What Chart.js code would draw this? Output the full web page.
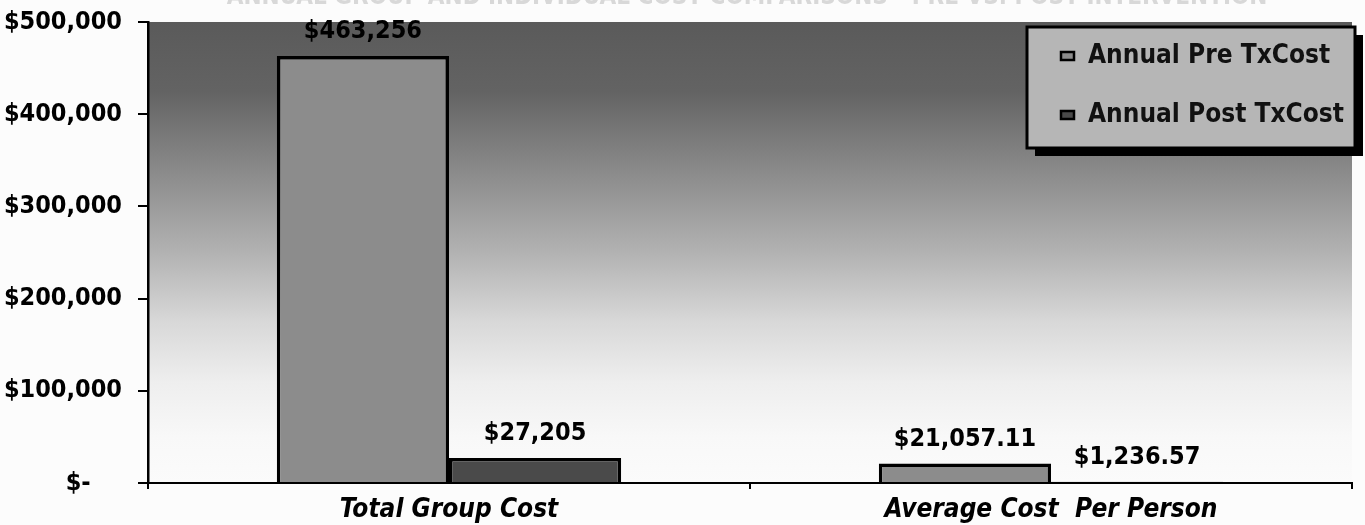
<!DOCTYPE html>
<html>
<head>
<meta charset="utf-8">
<script src="https://cdn.jsdelivr.net/npm/chart.js@4.4.1/dist/chart.umd.min.js"></script>
<style>
  html, body { margin: 0; padding: 0; background: #fcfcfc; }
  #wrap { width: 1365px; height: 525px; position: relative; }
</style>
</head>
<body>
<div id="wrap"><canvas id="c" width="1365" height="525"></canvas></div>
<script>
const titleText = "ANNUAL GROUP AND INDIVIDUAL COST COMPARISONS - PRE VS. POST INTERVENTION";
const categories = ["Total Group Cost", "Average Cost  Per Person"];
const seriesNames = ["Annual Pre TxCost", "Annual Post TxCost"];
const preValues = [463256, 21057.11];
const postValues = [27205, 1236.57];
const labelDecimals = [0, 2];
const yTicks = [0, 100000, 200000, 300000, 400000, 500000];
const seriesColors = ["#8c8c8c", "#4a4a4a"];

const FONT = "'DejaVu Sans Condensed', 'DejaVu Sans', sans-serif";

function money(v, d) {
  if (v === 0) return "$-";
  return "$" + v.toLocaleString("en-US", { minimumFractionDigits: d, maximumFractionDigits: d });
}

const bgPlugin = {
  id: "bg",
  beforeDraw(chart) {
    const { ctx, chartArea: a } = chart;
    const g = ctx.createLinearGradient(0, a.top, 0, a.bottom);
    g.addColorStop(0, "#5a5a5a");
    g.addColorStop(0.15, "#636363");
    g.addColorStop(0.34, "#8e8e8e");
    g.addColorStop(0.5, "#b2b2b2");
    g.addColorStop(0.65, "#d8d8d8");
    g.addColorStop(0.78, "#eeeeee");
    g.addColorStop(0.9, "#f8f8f8");
    g.addColorStop(1, "#fbfbfb");
    ctx.save();
    ctx.fillStyle = g;
    ctx.fillRect(a.left, a.top, a.right - a.left, a.bottom - a.top);
    // clipped title at very top
    ctx.fillStyle = "#d8d8d8";
    ctx.font = "bold 24px " + FONT;
    ctx.textAlign = "center";
    ctx.textBaseline = "alphabetic";
    ctx.fillText(titleText, 747, 4);
    ctx.restore();
  }
};

const labelPlugin = {
  id: "vlabels",
  afterDatasetsDraw(chart) {
    const { ctx } = chart;
    ctx.save();
    ctx.fillStyle = "#000";
    ctx.font = "bold 25px " + FONT;
    ctx.textAlign = "center";
    ctx.textBaseline = "bottom";
    chart.data.datasets.forEach((ds, di) => {
      const meta = chart.getDatasetMeta(di);
      meta.data.forEach((bar, i) => {
        ctx.fillText(money(ds.data[i], labelDecimals[i]), bar.x, bar.y - 12);
      });
    });
    ctx.restore();
  }
};

const legendPlugin = {
  id: "boxlegend",
  afterDraw(chart) {
    const { ctx } = chart;
    const x = 1027, y = 27, w = 328, h = 121;
    ctx.save();
    ctx.fillStyle = "#000";
    ctx.fillRect(x + 8, y + 8, w, h);
    ctx.fillStyle = "#b6b6b6";
    ctx.fillRect(x, y, w, h);
    ctx.lineWidth = 3;
    ctx.strokeStyle = "#000";
    ctx.strokeRect(x, y, w, h);
    ctx.font = "bold 26px " + FONT;
    ctx.textBaseline = "middle";
    ctx.textAlign = "left";
    const rows = [56, 115];
    chart.data.datasets.forEach((ds, i) => {
      const cy = rows[i];
      ctx.fillStyle = ds.backgroundColor;
      ctx.fillRect(1061, cy - 4, 13, 8);
      ctx.lineWidth = 2.5;
      ctx.strokeStyle = "#000";
      ctx.strokeRect(1061, cy - 4, 13, 8);
      ctx.fillStyle = "#111";
      ctx.fillText(ds.label, 1088, cy);
    });
    ctx.restore();
  }
};

new Chart(document.getElementById("c"), {
  type: "bar",
  data: {
    labels: categories,
    datasets: [
      { label: seriesNames[0], data: preValues, backgroundColor: seriesColors[0], borderColor: "#000", borderWidth: 3.5, borderSkipped: "bottom" },
      { label: seriesNames[1], data: postValues, backgroundColor: seriesColors[1], borderColor: "#000", borderWidth: 3.5, borderSkipped: "bottom" }
    ]
  },
  options: {
    responsive: false,
    animation: false,
    devicePixelRatio: 1,
    layout: { padding: { top: 22, right: 13, left: 0, bottom: 0 } },
    plugins: { legend: { display: false }, tooltip: { enabled: false }, title: { display: false } },
    datasets: { bar: { barPercentage: 1.0, categoryPercentage: 0.572 } },
    scales: {
      x: {
        offset: true,
        grid: { display: true, drawOnChartArea: false, offset: true, color: "#000", lineWidth: 2, tickLength: 6, tickWidth: 2 },
        border: { display: true, color: "#000", width: 2 },
        ticks: { color: "#000", font: { family: FONT, size: 26, weight: "bold", style: "italic" }, padding: 6, maxRotation: 0 },
        afterFit(s) { s.height = 42; s.paddingLeft = 0; s.paddingRight = 0; }
      },
      y: {
        min: 0, max: 500000,
        afterBuildTicks(s) { s.ticks = yTicks.map(v => ({ value: v })); },
        grid: { display: true, drawOnChartArea: false, color: "#000", lineWidth: 2, tickLength: 10, tickWidth: 2 },
        border: { display: true, color: "#000", width: 2.5 },
        ticks: {
          color: "#000",
          font: { family: FONT, size: 25, weight: "bold" },
          padding: 16,
          callback: (v) => v === 0 ? "$-    " : money(v, 0)
        },
        afterFit(s) { s.width = 148; s.paddingTop = 0; s.paddingBottom = 0; }
      }
    }
  },
  plugins: [bgPlugin, labelPlugin, legendPlugin]
});
</script>
</body>
</html>
